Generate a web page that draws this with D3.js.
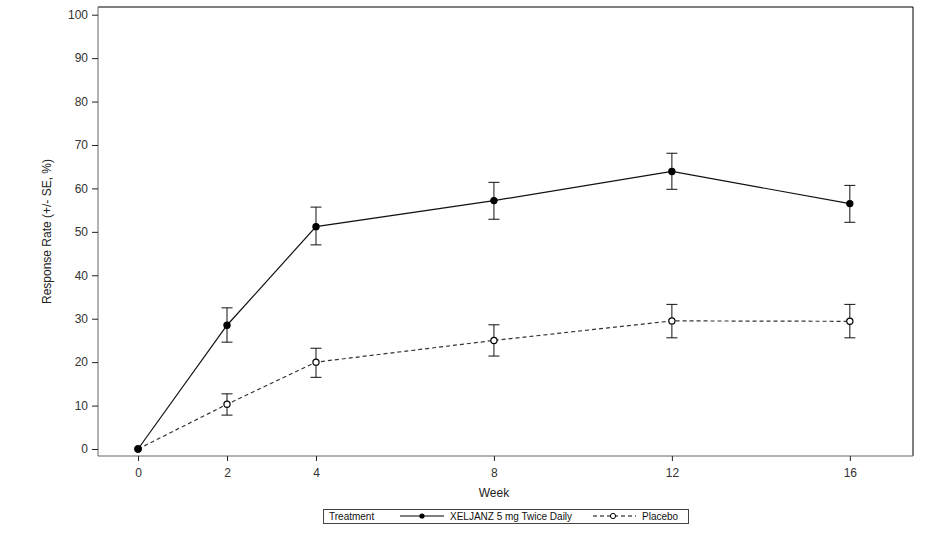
<!DOCTYPE html>
<html>
<head>
<meta charset="utf-8">
<script src="https://cdn.jsdelivr.net/npm/d3@7"></script>
<style>
  body { margin: 0; background: #fff; }
  text { font-family: "Liberation Sans", Arial, sans-serif; }
</style>
</head>
<body>
<div id="chart"></div>
<script>
// data
const weeks = [0, 2, 4, 8, 12, 16];
const xeljanz = [0, 28.5, 51.2, 57.2, 63.9, 56.5];
const xeljanzLo = [0, 24.6, 47.0, 52.9, 59.8, 52.2];
const xeljanzHi = [0, 32.5, 55.7, 61.4, 68.1, 60.7];
const placebo = [0, 10.3, 20.0, 25.0, 29.5, 29.4];
const placeboLo = [0, 7.8, 16.5, 21.4, 25.6, 25.6];
const placeboHi = [0, 12.7, 23.2, 28.6, 33.3, 33.3];
const yTicks = [0, 10, 20, 30, 40, 50, 60, 70, 80, 90, 100];

const W = 937, H = 543;
const frame = {left: 98, top: 7, right: 913, bottom: 456};

const svg = d3.select("#chart").append("svg")
  .attr("width", W).attr("height", H);

const x = d3.scaleLinear().domain([-0.9, 17.42]).range([frame.left, frame.right]);
const y = d3.scaleLinear().domain([0, 100]).range([449, 14.7]);

// frame: top and right are plain lines
svg.append("line").attr("x1", frame.left).attr("x2", frame.right)
  .attr("y1", frame.top).attr("y2", frame.top).attr("stroke", "#000");
svg.append("line").attr("x1", frame.right).attr("x2", frame.right)
  .attr("y1", frame.top).attr("y2", frame.bottom).attr("stroke", "#000");

// axes
const yAxis = svg.append("g").attr("transform", `translate(${frame.left},0)`)
  .call(d3.axisLeft(y).tickValues(yTicks).tickSize(6).tickPadding(4).tickSizeOuter(0));
yAxis.select(".domain").attr("d", `M0,${frame.top}V${frame.bottom}`);

const xAxis = svg.append("g").attr("transform", `translate(0,${frame.bottom})`)
  .call(d3.axisBottom(x).tickValues(weeks).tickSize(5).tickPadding(7).tickSizeOuter(0));
xAxis.select(".domain").attr("d", `M${frame.left},0H${frame.right}`);

svg.selectAll(".domain").attr("stroke", "#666");
svg.selectAll(".tick line").attr("stroke", "#222");
svg.selectAll(".tick text").attr("font-size", 12).attr("fill", "#333")
  .attr("font-family", "Liberation Sans, Arial, sans-serif");

svg.append("text").attr("x", x(8)).attr("y", 497).attr("text-anchor", "middle")
  .attr("font-size", 12).attr("fill", "#222").text("Week");
svg.append("text")
  .attr("transform", `translate(51,${(frame.top + frame.bottom) / 2}) rotate(-90)`)
  .attr("text-anchor", "middle").attr("font-size", 12).attr("fill", "#222")
  .text("Response Rate (+/- SE, %)");

function drawSeries(vals, lo, hi, dash, filled, color) {
  const g = svg.append("g");
  const pts = weeks.map((w, i) => ({w, v: vals[i], lo: lo[i], hi: hi[i]}));
  g.append("path").datum(pts)
    .attr("d", d3.line().x(d => x(d.w)).y(d => y(d.v)))
    .attr("fill", "none").attr("stroke", color).attr("stroke-width", 1.2)
    .attr("stroke-dasharray", dash);
  const eb = g.selectAll(".eb").data(pts.filter(d => d.hi > d.lo)).enter().append("g");
  eb.append("line").attr("x1", d => x(d.w)).attr("x2", d => x(d.w))
    .attr("y1", d => y(d.lo)).attr("y2", d => y(d.hi)).attr("stroke", "#111");
  eb.append("line").attr("x1", d => x(d.w) - 5.5).attr("x2", d => x(d.w) + 5.5)
    .attr("y1", d => y(d.lo)).attr("y2", d => y(d.lo)).attr("stroke", "#111");
  eb.append("line").attr("x1", d => x(d.w) - 5.5).attr("x2", d => x(d.w) + 5.5)
    .attr("y1", d => y(d.hi)).attr("y2", d => y(d.hi)).attr("stroke", "#111");
  g.selectAll("circle").data(pts).enter().append("circle")
    .attr("cx", d => x(d.w)).attr("cy", d => y(d.v)).attr("r", 3.1)
    .attr("fill", filled ? "#000" : "#fff").attr("stroke", "#000").attr("stroke-width", 1.2);
}

drawSeries(placebo, placeboLo, placeboHi, "4,3", false, "#333");
drawSeries(xeljanz, xeljanzLo, xeljanzHi, null, true, "#111");

// legend
const lg = svg.append("g");
lg.append("rect").attr("x", 323.5).attr("y", 509.5).attr("width", 365).attr("height", 14)
  .attr("fill", "#fff").attr("stroke", "#444");
lg.append("text").attr("x", 329).attr("y", 520).attr("font-size", 10).attr("fill", "#111").text("Treatment");
lg.append("line").attr("x1", 400).attr("x2", 444).attr("y1", 516).attr("y2", 516).attr("stroke", "#000");
lg.append("circle").attr("cx", 422).attr("cy", 516).attr("r", 2.6).attr("fill", "#000");
lg.append("text").attr("x", 450).attr("y", 520).attr("font-size", 10).attr("fill", "#111").text("XELJANZ 5 mg Twice Daily");
lg.append("line").attr("x1", 593).attr("x2", 636).attr("y1", 516).attr("y2", 516)
  .attr("stroke", "#000").attr("stroke-dasharray", "4,3");
lg.append("circle").attr("cx", 613).attr("cy", 516).attr("r", 2.6).attr("fill", "#fff").attr("stroke", "#000");
lg.append("text").attr("x", 642).attr("y", 520).attr("font-size", 10).attr("fill", "#111").text("Placebo");
</script>
</body>
</html>
